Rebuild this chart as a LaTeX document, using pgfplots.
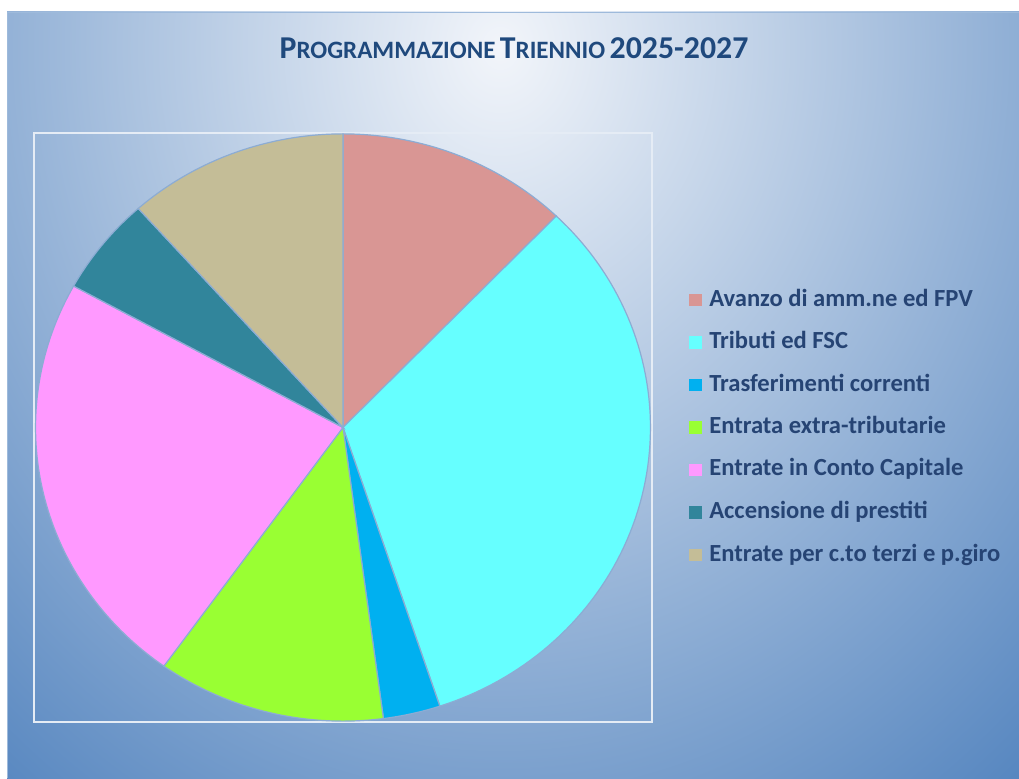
\documentclass[border=0pt]{standalone}
\usepackage{pgfplots}
\pgfplotsset{compat=1.18}
\usepackage{fontspec}
\setmainfont{Carlito}
\definecolor{cA}{RGB}{217,150,148}
\definecolor{cB}{RGB}{102,255,255}
\definecolor{cC}{RGB}{0,176,240}
\definecolor{cD}{RGB}{153,255,51}
\definecolor{cE}{RGB}{255,153,255}
\definecolor{cF}{RGB}{49,133,155}
\definecolor{cG}{RGB}{196,189,151}
\definecolor{edge}{RGB}{140,172,212}
\definecolor{titleblue}{RGB}{31,73,125}
\definecolor{legtext}{RGB}{38,68,116}
\definecolor{bgblue}{RGB}{79,129,189}
\definecolor{bglight}{RGB}{242,245,250}
\pgfdeclareradialshading{bgshade}{\pgfpointorigin}{color(0bp)=(bglight); color(25bp)=(bgblue); color(50bp)=(bgblue)}
% shares (percent), clockwise from 12 o'clock
\def\vA{12.2}% Avanzo di amm.ne ed FPV
\def\vB{32.7}% Tributi ed FSC
\def\vC{3.0}%  Trasferimenti correnti
\def\vD{12.0}% Entrata extra-tributarie
\def\vE{23.1}% Entrate in Conto Capitale
\def\vF{5.4}%  Accensione di prestiti
\def\vG{11.6}% Entrate per c.to terzi e p.giro
\begin{document}
\begin{tikzpicture}[x=0.5pt,y=0.5pt]
\useasboundingbox (0,0) rectangle (1019,778);
\pgfmathsetmacro{\aA}{90}
\pgfmathsetmacro{\aB}{\aA-3.6*\vA}
\pgfmathsetmacro{\aC}{\aB-3.6*\vB}
\pgfmathsetmacro{\aD}{\aC-3.6*\vC}
\pgfmathsetmacro{\aE}{\aD-3.6*\vD}
\pgfmathsetmacro{\aF}{\aE-3.6*\vE}
\pgfmathsetmacro{\aG}{\aF-3.6*\vF}
\pgfmathsetmacro{\aH}{\aG-3.6*\vG}
\fill[white] (0,0) rectangle (1019,778);
\begin{scope}
\clip (7,0) rectangle (1019,766);
\shade[shading=bgshade] (500-850,730-1000) rectangle (500+850,730+1000);
\end{scope}
\draw[bgblue!55!white, line width=0.8pt] (7.5,0) -- (7.5,765.5) -- (1019,765.5);
\node[anchor=base, text=titleblue, font=\bfseries, inner sep=0pt] at (514,719)
 {{\fontsize{15.9}{18}\selectfont P}{\fontsize{12.5}{14}\selectfont ROGRAMMAZIONE} {\fontsize{15.9}{18}\selectfont T}{\fontsize{12.5}{14}\selectfont RIENNIO} {\fontsize{15.9}{18}\selectfont 2025-2027}};
\begin{axis}[
  at={(17pt,28pt)}, anchor=south west,
  width=309pt, height=294.5pt, scale only axis,
  xmin=-1.005, xmax=1.005, ymin=-1.003, ymax=1.003,
  xtick=\empty, ytick=\empty,
  axis line style={draw=white!85!bgblue, line width=1pt},
  clip=false,
  legend cell align=left,
  legend style={at={(1.06,0.5)}, anchor=west, draw=none, fill=none,
    font=\fontsize{12.3}{14}\selectfont\bfseries, text=legtext,
    inner sep=0pt, row sep=9.25pt,
    nodes={inner sep=0pt, text height=9pt, text depth=3pt}},
  legend image code/.code={\fill[#1, draw=none] (0pt,-3.2pt) rectangle (6.4pt,3.2pt);},
  every axis plot/.append style={draw=edge, line width=0.6pt, samples=80},
]
\addplot[fill=cA, domain=\aB:\aA] ({cos(x)},{sin(x)}) -- (0,0) -- cycle;
\addlegendentry{\hspace{3.5pt}Avanzo di amm.ne ed FPV}
\addplot[fill=cB, domain=\aC:\aB] ({cos(x)},{sin(x)}) -- (0,0) -- cycle;
\addlegendentry{\hspace{3.5pt}Tributi ed FSC}
\addplot[fill=cC, domain=\aD:\aC] ({cos(x)},{sin(x)}) -- (0,0) -- cycle;
\addlegendentry{\hspace{3.5pt}Trasferimenti correnti}
\addplot[fill=cD, domain=\aE:\aD] ({cos(x)},{sin(x)}) -- (0,0) -- cycle;
\addlegendentry{\hspace{3.5pt}Entrata extra-tributarie}
\addplot[fill=cE, domain=\aF:\aE] ({cos(x)},{sin(x)}) -- (0,0) -- cycle;
\addlegendentry{\hspace{3.5pt}Entrate in Conto Capitale}
\addplot[fill=cF, domain=\aG:\aF] ({cos(x)},{sin(x)}) -- (0,0) -- cycle;
\addlegendentry{\hspace{3.5pt}Accensione di prestiti}
\addplot[fill=cG, domain=\aH:\aG] ({cos(x)},{sin(x)}) -- (0,0) -- cycle;
\addlegendentry{\hspace{3.5pt}Entrate per c.to terzi e p.giro}
\end{axis}
\end{tikzpicture}
\end{document}
